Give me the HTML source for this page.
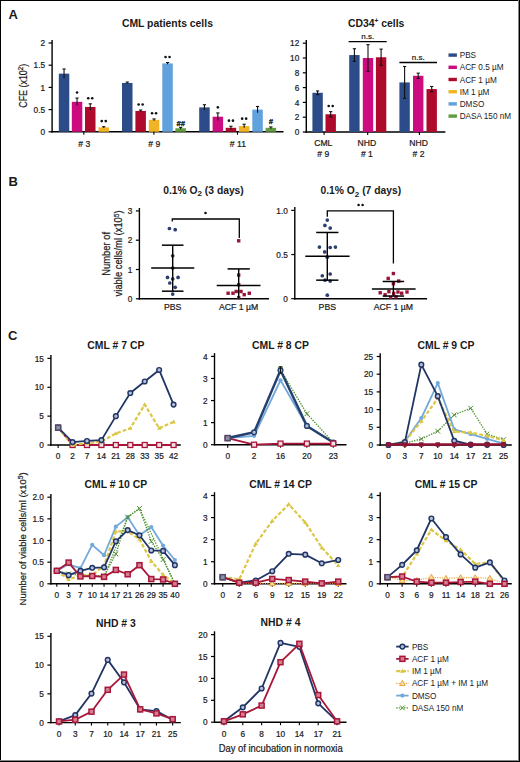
<!DOCTYPE html>
<html><head><meta charset="utf-8"><title>Figure</title>
<style>
html,body{margin:0;padding:0;background:#fff;}
body{width:520px;height:762px;overflow:hidden;position:relative;font-family:"Liberation Sans", sans-serif;}
svg{position:absolute;left:0;top:0;}
svg text:not([font-weight]):not(.nl){stroke:#222;stroke-width:0.22px;paint-order:stroke;}
.bd{position:absolute;background:#000;}
</style></head><body>
<svg width="520" height="762" viewBox="0 0 520 762" font-family='"Liberation Sans", sans-serif' fill="#1a1a1a">
<text x="8.6" y="18.6" font-size="13" font-weight="bold">A</text>
<text x="8.6" y="186.4" font-size="13" font-weight="bold">B</text>
<text x="8.0" y="339.6" font-size="13" font-weight="bold">C</text>
<line x1="52.1" y1="40" x2="52.1" y2="132.5" stroke="#000" stroke-width="1.4" />
<line x1="48.6" y1="131.8" x2="52.1" y2="131.8" stroke="#000" stroke-width="1.2" />
<text transform="translate(45.1,134.9) scale(0.95,1)" font-size="8.7" text-anchor="end" >0</text>
<line x1="48.6" y1="109.6" x2="52.1" y2="109.6" stroke="#000" stroke-width="1.2" />
<text transform="translate(45.1,112.7) scale(0.95,1)" font-size="8.7" text-anchor="end" >0.5</text>
<line x1="48.6" y1="87.4" x2="52.1" y2="87.4" stroke="#000" stroke-width="1.2" />
<text transform="translate(45.1,90.5) scale(0.95,1)" font-size="8.7" text-anchor="end" >1</text>
<line x1="48.6" y1="65.2" x2="52.1" y2="65.2" stroke="#000" stroke-width="1.2" />
<text transform="translate(45.1,68.3) scale(0.95,1)" font-size="8.7" text-anchor="end" >1.5</text>
<line x1="48.6" y1="43" x2="52.1" y2="43" stroke="#000" stroke-width="1.2" />
<text transform="translate(45.1,46.1) scale(0.95,1)" font-size="8.7" text-anchor="end" >2</text>
<line x1="51.4" y1="131.8" x2="283.5" y2="131.8" stroke="#000" stroke-width="1.4" />
<rect x="58.8" y="73.64" width="10.5" height="58.16" fill="#2b4c88"/>
<line x1="64.05" y1="68.97" x2="64.05" y2="78.3" stroke="#111" stroke-width="1.1" />
<line x1="62.45" y1="68.97" x2="65.65" y2="68.97" stroke="#111" stroke-width="1.1" />
<rect x="71.8" y="101.83" width="10.5" height="29.97" fill="#cc0c7e"/>
<line x1="77.05" y1="98.06" x2="77.05" y2="105.6" stroke="#111" stroke-width="1.1" />
<line x1="75.45" y1="98.06" x2="78.65" y2="98.06" stroke="#111" stroke-width="1.1" />
<circle cx="77.05" cy="92.46" r="1.3" fill="#111"/>
<rect x="85" y="106.94" width="10.5" height="24.86" fill="#ad0a2c"/>
<line x1="90.25" y1="103.83" x2="90.25" y2="110.04" stroke="#111" stroke-width="1.1" />
<line x1="88.65" y1="103.83" x2="91.85" y2="103.83" stroke="#111" stroke-width="1.1" />
<circle cx="88.25" cy="98.23" r="1.3" fill="#111"/>
<circle cx="92.25" cy="98.23" r="1.3" fill="#111"/>
<rect x="98.5" y="127.36" width="10.5" height="4.44" fill="#f0b424"/>
<line x1="103.75" y1="126.69" x2="103.75" y2="128.03" stroke="#111" stroke-width="1.1" />
<line x1="102.15" y1="126.69" x2="105.35" y2="126.69" stroke="#111" stroke-width="1.1" />
<circle cx="101.75" cy="121.09" r="1.3" fill="#111"/>
<circle cx="105.75" cy="121.09" r="1.3" fill="#111"/>
<rect x="122" y="82.96" width="10.5" height="48.84" fill="#2b4c88"/>
<line x1="127.25" y1="82.07" x2="127.25" y2="83.85" stroke="#111" stroke-width="1.1" />
<line x1="125.65" y1="82.07" x2="128.85" y2="82.07" stroke="#111" stroke-width="1.1" />
<rect x="135.4" y="110.93" width="10.5" height="20.87" fill="#ad0a2c"/>
<line x1="140.65" y1="110.04" x2="140.65" y2="111.82" stroke="#111" stroke-width="1.1" />
<line x1="139.05" y1="110.04" x2="142.25" y2="110.04" stroke="#111" stroke-width="1.1" />
<circle cx="138.65" cy="104.44" r="1.3" fill="#111"/>
<circle cx="142.65" cy="104.44" r="1.3" fill="#111"/>
<rect x="148.8" y="119.81" width="10.5" height="11.99" fill="#f0b424"/>
<line x1="154.05" y1="118.92" x2="154.05" y2="120.7" stroke="#111" stroke-width="1.1" />
<line x1="152.45" y1="118.92" x2="155.65" y2="118.92" stroke="#111" stroke-width="1.1" />
<circle cx="152.05" cy="113.32" r="1.3" fill="#111"/>
<circle cx="156.05" cy="113.32" r="1.3" fill="#111"/>
<rect x="162.3" y="63.42" width="10.5" height="68.38" fill="#62a2dc"/>
<line x1="167.55" y1="62.54" x2="167.55" y2="64.31" stroke="#111" stroke-width="1.1" />
<line x1="165.95" y1="62.54" x2="169.15" y2="62.54" stroke="#111" stroke-width="1.1" />
<circle cx="165.55" cy="56.94" r="1.3" fill="#111"/>
<circle cx="169.55" cy="56.94" r="1.3" fill="#111"/>
<rect x="175.4" y="128.25" width="10.5" height="3.55" fill="#5f9e3e"/>
<line x1="180.65" y1="127.36" x2="180.65" y2="129.14" stroke="#111" stroke-width="1.1" />
<line x1="179.05" y1="127.36" x2="182.25" y2="127.36" stroke="#111" stroke-width="1.1" />
<text x="180.65" y="125.96" font-size="7.4" text-anchor="middle" font-weight="bold" font-style="italic" fill="#000" stroke="#000" stroke-width="0.25">##</text>
<rect x="199.2" y="107.38" width="10.5" height="24.42" fill="#2b4c88"/>
<line x1="204.45" y1="104.72" x2="204.45" y2="110.04" stroke="#111" stroke-width="1.1" />
<line x1="202.85" y1="104.72" x2="206.05" y2="104.72" stroke="#111" stroke-width="1.1" />
<rect x="212.6" y="116.7" width="10.5" height="15.1" fill="#cc0c7e"/>
<line x1="217.85" y1="112.93" x2="217.85" y2="120.48" stroke="#111" stroke-width="1.1" />
<line x1="216.25" y1="112.93" x2="219.45" y2="112.93" stroke="#111" stroke-width="1.1" />
<circle cx="217.85" cy="107.33" r="1.3" fill="#111"/>
<rect x="225.7" y="127.8" width="10.5" height="4" fill="#ad0a2c"/>
<line x1="230.95" y1="126.25" x2="230.95" y2="129.36" stroke="#111" stroke-width="1.1" />
<line x1="229.35" y1="126.25" x2="232.55" y2="126.25" stroke="#111" stroke-width="1.1" />
<circle cx="228.95" cy="120.65" r="1.3" fill="#111"/>
<circle cx="232.95" cy="120.65" r="1.3" fill="#111"/>
<rect x="238.9" y="126.03" width="10.5" height="5.77" fill="#f0b424"/>
<line x1="244.15" y1="124.25" x2="244.15" y2="127.8" stroke="#111" stroke-width="1.1" />
<line x1="242.55" y1="124.25" x2="245.75" y2="124.25" stroke="#111" stroke-width="1.1" />
<circle cx="242.15" cy="118.65" r="1.3" fill="#111"/>
<circle cx="246.15" cy="118.65" r="1.3" fill="#111"/>
<rect x="252.3" y="109.6" width="10.5" height="22.2" fill="#62a2dc"/>
<line x1="257.55" y1="106.49" x2="257.55" y2="112.71" stroke="#111" stroke-width="1.1" />
<line x1="255.95" y1="106.49" x2="259.15" y2="106.49" stroke="#111" stroke-width="1.1" />
<rect x="265.6" y="127.8" width="10.5" height="4" fill="#5f9e3e"/>
<line x1="270.85" y1="126.92" x2="270.85" y2="128.69" stroke="#111" stroke-width="1.1" />
<line x1="269.25" y1="126.92" x2="272.45" y2="126.92" stroke="#111" stroke-width="1.1" />
<text x="270.85" y="123.92" font-size="7.4" text-anchor="middle" font-weight="bold" font-style="italic" fill="#000" stroke="#000" stroke-width="0.25">#</text>
<line x1="83.8" y1="131.8" x2="83.8" y2="134.8" stroke="#000" stroke-width="1.1" />
<text x="84.2" y="146.5" font-size="8.6" text-anchor="middle" ># 3</text>
<line x1="153.9" y1="131.8" x2="153.9" y2="134.8" stroke="#000" stroke-width="1.1" />
<text x="154.3" y="146.5" font-size="8.6" text-anchor="middle" ># 9</text>
<line x1="237.5" y1="131.8" x2="237.5" y2="134.8" stroke="#000" stroke-width="1.1" />
<text x="237.9" y="146.5" font-size="8.6" text-anchor="middle" ># 11</text>
<text x="167.4" y="26.9" font-size="10.4" text-anchor="middle" font-weight="bold" >CML patients cells</text>
<text transform="translate(27.0,85.8) rotate(-90)" font-size="10.2" text-anchor="middle" textLength="44" lengthAdjust="spacingAndGlyphs">CFE (x10<tspan font-size="7" dy="-3.6">2</tspan><tspan dy="3.6">)</tspan></text>
<line x1="306.3" y1="40" x2="306.3" y2="132.7" stroke="#000" stroke-width="1.4" />
<line x1="302.8" y1="132" x2="306.3" y2="132" stroke="#000" stroke-width="1.2" />
<text transform="translate(299.3,135.1) scale(0.95,1)" font-size="8.7" text-anchor="end" >0</text>
<line x1="302.8" y1="117.2" x2="306.3" y2="117.2" stroke="#000" stroke-width="1.2" />
<text transform="translate(299.3,120.3) scale(0.95,1)" font-size="8.7" text-anchor="end" >2</text>
<line x1="302.8" y1="102.4" x2="306.3" y2="102.4" stroke="#000" stroke-width="1.2" />
<text transform="translate(299.3,105.5) scale(0.95,1)" font-size="8.7" text-anchor="end" >4</text>
<line x1="302.8" y1="87.6" x2="306.3" y2="87.6" stroke="#000" stroke-width="1.2" />
<text transform="translate(299.3,90.7) scale(0.95,1)" font-size="8.7" text-anchor="end" >6</text>
<line x1="302.8" y1="72.8" x2="306.3" y2="72.8" stroke="#000" stroke-width="1.2" />
<text transform="translate(299.3,75.9) scale(0.95,1)" font-size="8.7" text-anchor="end" >8</text>
<line x1="302.8" y1="58" x2="306.3" y2="58" stroke="#000" stroke-width="1.2" />
<text transform="translate(299.3,61.1) scale(0.95,1)" font-size="8.7" text-anchor="end" >10</text>
<line x1="302.8" y1="43.2" x2="306.3" y2="43.2" stroke="#000" stroke-width="1.2" />
<text transform="translate(299.3,46.3) scale(0.95,1)" font-size="8.7" text-anchor="end" >12</text>
<line x1="305.6" y1="132" x2="445.4" y2="132" stroke="#000" stroke-width="1.4" />
<rect x="312.4" y="92.78" width="10.4" height="39.22" fill="#2b4c88"/>
<line x1="317.6" y1="90.93" x2="317.6" y2="94.63" stroke="#111" stroke-width="1.1" />
<line x1="316" y1="90.93" x2="319.2" y2="90.93" stroke="#111" stroke-width="1.1" />
<line x1="316" y1="94.63" x2="319.2" y2="94.63" stroke="#111" stroke-width="1.1" />
<rect x="325.5" y="114.24" width="10.4" height="17.76" fill="#ad0a2c"/>
<line x1="330.7" y1="111.65" x2="330.7" y2="116.83" stroke="#111" stroke-width="1.1" />
<line x1="329.1" y1="111.65" x2="332.3" y2="111.65" stroke="#111" stroke-width="1.1" />
<line x1="329.1" y1="116.83" x2="332.3" y2="116.83" stroke="#111" stroke-width="1.1" />
<circle cx="328.7" cy="105.95" r="1.3" fill="#111"/>
<circle cx="332.7" cy="105.95" r="1.3" fill="#111"/>
<rect x="349.2" y="55.04" width="10.4" height="76.96" fill="#2b4c88"/>
<line x1="354.4" y1="48.75" x2="354.4" y2="61.33" stroke="#111" stroke-width="1.1" />
<line x1="352.8" y1="48.75" x2="356" y2="48.75" stroke="#111" stroke-width="1.1" />
<line x1="352.8" y1="61.33" x2="356" y2="61.33" stroke="#111" stroke-width="1.1" />
<rect x="362.8" y="58" width="10.4" height="74" fill="#cc0c7e"/>
<line x1="368" y1="44.68" x2="368" y2="71.32" stroke="#111" stroke-width="1.1" />
<line x1="366.4" y1="44.68" x2="369.6" y2="44.68" stroke="#111" stroke-width="1.1" />
<line x1="366.4" y1="71.32" x2="369.6" y2="71.32" stroke="#111" stroke-width="1.1" />
<rect x="375.9" y="57.26" width="10.4" height="74.74" fill="#ad0a2c"/>
<line x1="381.1" y1="49.12" x2="381.1" y2="65.4" stroke="#111" stroke-width="1.1" />
<line x1="379.5" y1="49.12" x2="382.7" y2="49.12" stroke="#111" stroke-width="1.1" />
<line x1="379.5" y1="65.4" x2="382.7" y2="65.4" stroke="#111" stroke-width="1.1" />
<rect x="399.4" y="82.42" width="10.4" height="49.58" fill="#2b4c88"/>
<line x1="404.6" y1="66.51" x2="404.6" y2="98.33" stroke="#111" stroke-width="1.1" />
<line x1="403" y1="66.51" x2="406.2" y2="66.51" stroke="#111" stroke-width="1.1" />
<line x1="403" y1="98.33" x2="406.2" y2="98.33" stroke="#111" stroke-width="1.1" />
<rect x="413" y="75.76" width="10.4" height="56.24" fill="#cc0c7e"/>
<line x1="418.2" y1="73.17" x2="418.2" y2="78.35" stroke="#111" stroke-width="1.1" />
<line x1="416.6" y1="73.17" x2="419.8" y2="73.17" stroke="#111" stroke-width="1.1" />
<line x1="416.6" y1="78.35" x2="419.8" y2="78.35" stroke="#111" stroke-width="1.1" />
<rect x="426.5" y="89.08" width="10.4" height="42.92" fill="#ad0a2c"/>
<line x1="431.7" y1="86.49" x2="431.7" y2="91.67" stroke="#111" stroke-width="1.1" />
<line x1="430.1" y1="86.49" x2="433.3" y2="86.49" stroke="#111" stroke-width="1.1" />
<line x1="430.1" y1="91.67" x2="433.3" y2="91.67" stroke="#111" stroke-width="1.1" />
<line x1="348.6" y1="41.6" x2="386.7" y2="41.6" stroke="#000" stroke-width="1.3" />
<text x="367.7" y="39.4" font-size="8" text-anchor="middle" >n.s.</text>
<line x1="399.4" y1="62.5" x2="437" y2="62.5" stroke="#000" stroke-width="1.3" />
<text x="418.2" y="60.2" font-size="8" text-anchor="middle" >n.s.</text>
<line x1="324.1" y1="132" x2="324.1" y2="135" stroke="#000" stroke-width="1.1" />
<text x="323.3" y="146.2" font-size="8.6" text-anchor="middle" >CML</text>
<text x="323.3" y="156.7" font-size="8.6" text-anchor="middle" ># 9</text>
<line x1="367.7" y1="132" x2="367.7" y2="135" stroke="#000" stroke-width="1.1" />
<text x="366.9" y="146.2" font-size="8.6" text-anchor="middle" >NHD</text>
<text x="366.9" y="156.7" font-size="8.6" text-anchor="middle" ># 1</text>
<line x1="419.4" y1="132" x2="419.4" y2="135" stroke="#000" stroke-width="1.1" />
<text x="418.6" y="146.2" font-size="8.6" text-anchor="middle" >NHD</text>
<text x="418.6" y="156.7" font-size="8.6" text-anchor="middle" ># 2</text>
<text x="376.2" y="26.8" font-size="10.4" font-weight="bold" text-anchor="middle">CD34<tspan font-size="6.5" dy="-3.6">+</tspan><tspan dy="3.6"> cells</tspan></text>
<rect x="448.5" y="53.4" width="8.4" height="3.4" fill="#2b4c88"/>
<text x="459.7" y="58.1" font-size="8.2" text-anchor="start" class="nl">PBS</text>
<rect x="448.5" y="65.6" width="8.4" height="3.4" fill="#cc0c7e"/>
<text x="459.7" y="70.3" font-size="8.2" text-anchor="start" class="nl">ACF 0.5 µM</text>
<rect x="448.5" y="77.8" width="8.4" height="3.4" fill="#ad0a2c"/>
<text x="459.7" y="82.5" font-size="8.2" text-anchor="start" class="nl">ACF 1 µM</text>
<rect x="448.5" y="90" width="8.4" height="3.4" fill="#f0b424"/>
<text x="459.7" y="94.7" font-size="8.2" text-anchor="start" class="nl">IM 1 µM</text>
<rect x="448.5" y="102.2" width="8.4" height="3.4" fill="#62a2dc"/>
<text x="459.7" y="106.9" font-size="8.2" text-anchor="start" class="nl">DMSO</text>
<rect x="448.5" y="114.4" width="8.4" height="3.4" fill="#5f9e3e"/>
<text x="459.7" y="119.1" font-size="8.2" text-anchor="start" class="nl">DASA 150 nM</text>
<line x1="139.4" y1="208" x2="139.4" y2="299.5" stroke="#000" stroke-width="1.4" />
<line x1="135.9" y1="298.8" x2="139.4" y2="298.8" stroke="#000" stroke-width="1.2" />
<text transform="translate(132.4,301.9) scale(0.95,1)" font-size="8.7" text-anchor="end" >0</text>
<line x1="135.9" y1="269.5" x2="139.4" y2="269.5" stroke="#000" stroke-width="1.2" />
<text transform="translate(132.4,272.6) scale(0.95,1)" font-size="8.7" text-anchor="end" >1</text>
<line x1="135.9" y1="240.2" x2="139.4" y2="240.2" stroke="#000" stroke-width="1.2" />
<text transform="translate(132.4,243.3) scale(0.95,1)" font-size="8.7" text-anchor="end" >2</text>
<line x1="135.9" y1="210.9" x2="139.4" y2="210.9" stroke="#000" stroke-width="1.2" />
<text transform="translate(132.4,214) scale(0.95,1)" font-size="8.7" text-anchor="end" >3</text>
<line x1="138.7" y1="298.8" x2="269" y2="298.8" stroke="#000" stroke-width="1.4" />
<circle cx="169.4" cy="228.48" r="1.85" fill="#2c3f6e"/>
<circle cx="175.2" cy="229.65" r="1.85" fill="#2c3f6e"/>
<circle cx="172.7" cy="255.73" r="1.85" fill="#2c3f6e"/>
<circle cx="167.5" cy="277.41" r="1.85" fill="#2c3f6e"/>
<circle cx="178.1" cy="277.41" r="1.85" fill="#2c3f6e"/>
<circle cx="172.7" cy="278.88" r="1.85" fill="#2c3f6e"/>
<circle cx="169.8" cy="282.98" r="1.85" fill="#2c3f6e"/>
<circle cx="175.2" cy="287.37" r="1.85" fill="#2c3f6e"/>
<circle cx="172.7" cy="294.11" r="1.85" fill="#2c3f6e"/>
<circle cx="172.7" cy="268.04" r="1.85" fill="#2c3f6e"/>
<rect x="237" y="239.09" width="3.4" height="3.4" fill="#9a1438"/>
<rect x="237" y="273.37" width="3.4" height="3.4" fill="#9a1438"/>
<rect x="237" y="283.04" width="3.4" height="3.4" fill="#9a1438"/>
<rect x="226.4" y="291.53" width="3.4" height="3.4" fill="#9a1438"/>
<rect x="231.3" y="291.53" width="3.4" height="3.4" fill="#9a1438"/>
<rect x="234.5" y="289.78" width="3.4" height="3.4" fill="#9a1438"/>
<rect x="239.3" y="289.78" width="3.4" height="3.4" fill="#9a1438"/>
<rect x="242.5" y="293" width="3.4" height="3.4" fill="#9a1438"/>
<rect x="247.6" y="291.53" width="3.4" height="3.4" fill="#9a1438"/>
<rect x="237" y="295.93" width="3.4" height="3.4" fill="#9a1438"/>
<line x1="172.7" y1="245.18" x2="172.7" y2="291.18" stroke="#000" stroke-width="1.4" />
<line x1="151.2" y1="268.04" x2="194.3" y2="268.04" stroke="#000" stroke-width="1.5" />
<line x1="161.9" y1="245.18" x2="183.5" y2="245.18" stroke="#000" stroke-width="1.5" />
<line x1="161.9" y1="291.18" x2="183.5" y2="291.18" stroke="#000" stroke-width="1.5" />
<line x1="238.7" y1="268.91" x2="238.7" y2="298.8" stroke="#000" stroke-width="1.4" />
<line x1="216.7" y1="285.62" x2="260.5" y2="285.62" stroke="#000" stroke-width="1.5" />
<line x1="227.6" y1="268.91" x2="249.8" y2="268.91" stroke="#000" stroke-width="1.5" />
<polyline points="172.3,221.5 172.3,219 239.3,219 239.3,238" fill="none" stroke="#000" stroke-width="1.3"/>
<circle cx="205.5" cy="213" r="1.3" fill="#111"/>
<text x="172.7" y="310" font-size="8.7" text-anchor="middle" >PBS</text>
<text x="238.7" y="310" font-size="8.7" text-anchor="middle" >ACF 1 µM</text>
<text x="203.5" y="194" font-size="10.3" text-anchor="middle" font-weight="bold" >0.1% O<tspan font-size="8" dy="2.2">2</tspan><tspan dy="-2.2"> (3 days)</tspan></text>
<text transform="translate(109.5,253.8) rotate(-90)" font-size="10" text-anchor="middle" textLength="43.8" lengthAdjust="spacingAndGlyphs">Number of</text>
<text transform="translate(122.4,253.4) rotate(-90)" font-size="10" text-anchor="middle" textLength="86" lengthAdjust="spacingAndGlyphs">viable cells/ml (x10<tspan font-size="7" dy="-3.6">5</tspan><tspan dy="3.6">)</tspan></text>
<line x1="294.8" y1="207" x2="294.8" y2="299.4" stroke="#000" stroke-width="1.4" />
<line x1="291.3" y1="298.7" x2="294.8" y2="298.7" stroke="#000" stroke-width="1.2" />
<text transform="translate(287.8,301.8) scale(0.95,1)" font-size="8.7" text-anchor="end" >0</text>
<line x1="291.3" y1="254.55" x2="294.8" y2="254.55" stroke="#000" stroke-width="1.2" />
<text transform="translate(287.8,257.65) scale(0.95,1)" font-size="8.7" text-anchor="end" >0.5</text>
<line x1="291.3" y1="210.4" x2="294.8" y2="210.4" stroke="#000" stroke-width="1.2" />
<text transform="translate(287.8,213.5) scale(0.95,1)" font-size="8.7" text-anchor="end" >1.0</text>
<line x1="294.1" y1="298.7" x2="427.1" y2="298.7" stroke="#000" stroke-width="1.4" />
<circle cx="327.3" cy="220.11" r="1.85" fill="#2c3f6e"/>
<circle cx="324.9" cy="225.41" r="1.85" fill="#2c3f6e"/>
<circle cx="330.2" cy="228.06" r="1.85" fill="#2c3f6e"/>
<circle cx="319.4" cy="247.04" r="1.85" fill="#2c3f6e"/>
<circle cx="330.2" cy="247.49" r="1.85" fill="#2c3f6e"/>
<circle cx="335.4" cy="247.04" r="1.85" fill="#2c3f6e"/>
<circle cx="324.7" cy="251.9" r="1.85" fill="#2c3f6e"/>
<circle cx="327.3" cy="257.2" r="1.85" fill="#2c3f6e"/>
<circle cx="322.3" cy="275.74" r="1.85" fill="#2c3f6e"/>
<circle cx="330.2" cy="273.98" r="1.85" fill="#2c3f6e"/>
<circle cx="325" cy="280.16" r="1.85" fill="#2c3f6e"/>
<circle cx="330.2" cy="281.04" r="1.85" fill="#2c3f6e"/>
<circle cx="327.3" cy="295.17" r="1.85" fill="#2c3f6e"/>
<rect x="391.7" y="271.83" width="3.4" height="3.4" fill="#9a1438"/>
<rect x="386.5" y="276.69" width="3.4" height="3.4" fill="#9a1438"/>
<rect x="397" y="279.34" width="3.4" height="3.4" fill="#9a1438"/>
<rect x="391.7" y="281.99" width="3.4" height="3.4" fill="#9a1438"/>
<rect x="378.5" y="291.08" width="3.4" height="3.4" fill="#9a1438"/>
<rect x="383.4" y="293.03" width="3.4" height="3.4" fill="#9a1438"/>
<rect x="387.2" y="289.94" width="3.4" height="3.4" fill="#9a1438"/>
<rect x="392" y="291.7" width="3.4" height="3.4" fill="#9a1438"/>
<rect x="396.3" y="290.29" width="3.4" height="3.4" fill="#9a1438"/>
<rect x="400" y="291.53" width="3.4" height="3.4" fill="#9a1438"/>
<rect x="405.3" y="290.29" width="3.4" height="3.4" fill="#9a1438"/>
<rect x="389" y="295.68" width="3.4" height="3.4" fill="#9a1438"/>
<rect x="394.3" y="295.23" width="3.4" height="3.4" fill="#9a1438"/>
<line x1="327.3" y1="232.47" x2="327.3" y2="280.16" stroke="#000" stroke-width="1.4" />
<line x1="305.3" y1="256.32" x2="349.6" y2="256.32" stroke="#000" stroke-width="1.5" />
<line x1="316.2" y1="232.47" x2="338.4" y2="232.47" stroke="#000" stroke-width="1.5" />
<line x1="316.2" y1="280.16" x2="338.4" y2="280.16" stroke="#000" stroke-width="1.5" />
<line x1="393.4" y1="281.48" x2="393.4" y2="296.05" stroke="#000" stroke-width="1.4" />
<line x1="371.9" y1="288.99" x2="415.6" y2="288.99" stroke="#000" stroke-width="1.5" />
<line x1="382.7" y1="281.48" x2="404.1" y2="281.48" stroke="#000" stroke-width="1.5" />
<line x1="382.7" y1="296.05" x2="404.1" y2="296.05" stroke="#000" stroke-width="1.5" />
<polyline points="327.3,216.8 327.3,210.9 393.4,210.9 393.4,263.4" fill="none" stroke="#000" stroke-width="1.3"/>
<circle cx="358.6" cy="205" r="1.3" fill="#111"/>
<circle cx="362.6" cy="205" r="1.3" fill="#111"/>
<text x="327.3" y="310" font-size="8.7" text-anchor="middle" >PBS</text>
<text x="393.4" y="310" font-size="8.7" text-anchor="middle" >ACF 1 µM</text>
<text x="360.8" y="194.4" font-size="10.3" text-anchor="middle" font-weight="bold" >0.1% O<tspan font-size="8" dy="2.2">2</tspan><tspan dy="-2.2"> (7 days)</tspan></text>
<line x1="50.9" y1="355.1" x2="50.9" y2="445.7" stroke="#000" stroke-width="1.4" />
<line x1="47.4" y1="445" x2="50.9" y2="445" stroke="#000" stroke-width="1.2" />
<text transform="translate(43.9,448.1) scale(0.95,1)" font-size="8.7" text-anchor="end" >0</text>
<line x1="47.4" y1="416.13" x2="50.9" y2="416.13" stroke="#000" stroke-width="1.2" />
<text transform="translate(43.9,419.23) scale(0.95,1)" font-size="8.7" text-anchor="end" >5</text>
<line x1="47.4" y1="387.27" x2="50.9" y2="387.27" stroke="#000" stroke-width="1.2" />
<text transform="translate(43.9,390.37) scale(0.95,1)" font-size="8.7" text-anchor="end" >10</text>
<line x1="47.4" y1="358.4" x2="50.9" y2="358.4" stroke="#000" stroke-width="1.2" />
<text transform="translate(43.9,361.5) scale(0.95,1)" font-size="8.7" text-anchor="end" >15</text>
<line x1="50.2" y1="445" x2="180.8" y2="445" stroke="#000" stroke-width="1.4" />
<line x1="58.12" y1="445" x2="58.12" y2="448" stroke="#000" stroke-width="1.1" />
<text transform="translate(58.12,459.4) scale(0.95,1)" font-size="8.7" text-anchor="middle" >0</text>
<line x1="72.55" y1="445" x2="72.55" y2="448" stroke="#000" stroke-width="1.1" />
<text transform="translate(72.55,459.4) scale(0.95,1)" font-size="8.7" text-anchor="middle" >2</text>
<line x1="86.98" y1="445" x2="86.98" y2="448" stroke="#000" stroke-width="1.1" />
<text transform="translate(86.98,459.4) scale(0.95,1)" font-size="8.7" text-anchor="middle" >7</text>
<line x1="101.42" y1="445" x2="101.42" y2="448" stroke="#000" stroke-width="1.1" />
<text transform="translate(101.42,459.4) scale(0.95,1)" font-size="8.7" text-anchor="middle" >14</text>
<line x1="115.85" y1="445" x2="115.85" y2="448" stroke="#000" stroke-width="1.1" />
<text transform="translate(115.85,459.4) scale(0.95,1)" font-size="8.7" text-anchor="middle" >21</text>
<line x1="130.28" y1="445" x2="130.28" y2="448" stroke="#000" stroke-width="1.1" />
<text transform="translate(130.28,459.4) scale(0.95,1)" font-size="8.7" text-anchor="middle" >28</text>
<line x1="144.72" y1="445" x2="144.72" y2="448" stroke="#000" stroke-width="1.1" />
<text transform="translate(144.72,459.4) scale(0.95,1)" font-size="8.7" text-anchor="middle" >33</text>
<line x1="159.15" y1="445" x2="159.15" y2="448" stroke="#000" stroke-width="1.1" />
<text transform="translate(159.15,459.4) scale(0.95,1)" font-size="8.7" text-anchor="middle" >35</text>
<line x1="173.58" y1="445" x2="173.58" y2="448" stroke="#000" stroke-width="1.1" />
<text transform="translate(173.58,459.4) scale(0.95,1)" font-size="8.7" text-anchor="middle" >42</text>
<text x="115.85" y="349" font-size="10.4" text-anchor="middle" font-weight="bold" >CML # 7 CP</text>
<polyline points="58.12,427.68 72.55,445 86.98,445 101.42,445 115.85,445 130.28,445 144.72,445 159.15,445 173.58,445" fill="none" stroke="#a8173a" stroke-width="1.8" stroke-linejoin="round"/>
<rect x="55.62" y="425.18" width="5" height="5" fill="#f4e0e4" stroke="#a8173a" stroke-width="1.3"/>
<rect x="70.05" y="442.5" width="5" height="5" fill="#f4e0e4" stroke="#a8173a" stroke-width="1.3"/>
<rect x="84.48" y="442.5" width="5" height="5" fill="#f4e0e4" stroke="#a8173a" stroke-width="1.3"/>
<rect x="98.92" y="442.5" width="5" height="5" fill="#f4e0e4" stroke="#a8173a" stroke-width="1.3"/>
<rect x="113.35" y="442.5" width="5" height="5" fill="#f4e0e4" stroke="#a8173a" stroke-width="1.3"/>
<rect x="127.78" y="442.5" width="5" height="5" fill="#f4e0e4" stroke="#a8173a" stroke-width="1.3"/>
<rect x="142.22" y="442.5" width="5" height="5" fill="#f4e0e4" stroke="#a8173a" stroke-width="1.3"/>
<rect x="156.65" y="442.5" width="5" height="5" fill="#f4e0e4" stroke="#a8173a" stroke-width="1.3"/>
<rect x="171.08" y="442.5" width="5" height="5" fill="#f4e0e4" stroke="#a8173a" stroke-width="1.3"/>
<polyline points="58.12,427.68 72.55,445 86.98,443.27 101.42,441.54 115.85,433.45 130.28,428.26 144.72,404.59 159.15,428.26 173.58,421.91" fill="none" stroke="#dcc644" stroke-width="2.2" stroke-dasharray="3.8,2" stroke-linejoin="round"/>
<path d="M58.12,425.38 L60.42,429.28 L55.82,429.28Z" fill="#dcc644"/>
<path d="M72.55,442.7 L74.85,446.6 L70.25,446.6Z" fill="#dcc644"/>
<path d="M86.98,440.97 L89.28,444.87 L84.68,444.87Z" fill="#dcc644"/>
<path d="M101.42,439.24 L103.72,443.14 L99.12,443.14Z" fill="#dcc644"/>
<path d="M115.85,431.15 L118.15,435.05 L113.55,435.05Z" fill="#dcc644"/>
<path d="M130.28,425.96 L132.58,429.86 L127.98,429.86Z" fill="#dcc644"/>
<path d="M144.72,402.29 L147.02,406.19 L142.42,406.19Z" fill="#dcc644"/>
<path d="M159.15,425.96 L161.45,429.86 L156.85,429.86Z" fill="#dcc644"/>
<path d="M173.58,419.61 L175.88,423.51 L171.28,423.51Z" fill="#dcc644"/>
<polyline points="58.12,427.68 72.55,442.11 86.98,440.96 101.42,440.09 115.85,416.13 130.28,393.04 144.72,381.49 159.15,369.95 173.58,404.59" fill="none" stroke="#213565" stroke-width="1.8" stroke-linejoin="round"/>
<circle cx="58.12" cy="427.68" r="2.35" fill="#b6c0d8" stroke="#213565" stroke-width="1.45"/>
<circle cx="72.55" cy="442.11" r="2.35" fill="#b6c0d8" stroke="#213565" stroke-width="1.45"/>
<circle cx="86.98" cy="440.96" r="2.35" fill="#b6c0d8" stroke="#213565" stroke-width="1.45"/>
<circle cx="101.42" cy="440.09" r="2.35" fill="#b6c0d8" stroke="#213565" stroke-width="1.45"/>
<circle cx="115.85" cy="416.13" r="2.35" fill="#b6c0d8" stroke="#213565" stroke-width="1.45"/>
<circle cx="130.28" cy="393.04" r="2.35" fill="#b6c0d8" stroke="#213565" stroke-width="1.45"/>
<circle cx="144.72" cy="381.49" r="2.35" fill="#b6c0d8" stroke="#213565" stroke-width="1.45"/>
<circle cx="159.15" cy="369.95" r="2.35" fill="#b6c0d8" stroke="#213565" stroke-width="1.45"/>
<circle cx="173.58" cy="404.59" r="2.35" fill="#b6c0d8" stroke="#213565" stroke-width="1.45"/>
<rect x="55.62" y="425.18" width="5" height="5" fill="#8a8fa8" stroke="#4a4c6c" stroke-width="1.4"/>
<line x1="214.5" y1="353.1" x2="214.5" y2="445.4" stroke="#000" stroke-width="1.4" />
<line x1="211" y1="444.7" x2="214.5" y2="444.7" stroke="#000" stroke-width="1.2" />
<text transform="translate(207.5,447.8) scale(0.95,1)" font-size="8.7" text-anchor="end" >0</text>
<line x1="211" y1="422.62" x2="214.5" y2="422.62" stroke="#000" stroke-width="1.2" />
<text transform="translate(207.5,425.73) scale(0.95,1)" font-size="8.7" text-anchor="end" >1</text>
<line x1="211" y1="400.55" x2="214.5" y2="400.55" stroke="#000" stroke-width="1.2" />
<text transform="translate(207.5,403.65) scale(0.95,1)" font-size="8.7" text-anchor="end" >2</text>
<line x1="211" y1="378.47" x2="214.5" y2="378.47" stroke="#000" stroke-width="1.2" />
<text transform="translate(207.5,381.57) scale(0.95,1)" font-size="8.7" text-anchor="end" >3</text>
<line x1="211" y1="356.4" x2="214.5" y2="356.4" stroke="#000" stroke-width="1.2" />
<text transform="translate(207.5,359.5) scale(0.95,1)" font-size="8.7" text-anchor="end" >4</text>
<line x1="213.8" y1="444.7" x2="346.5" y2="444.7" stroke="#000" stroke-width="1.4" />
<line x1="227.7" y1="444.7" x2="227.7" y2="447.7" stroke="#000" stroke-width="1.1" />
<text transform="translate(227.7,459.1) scale(0.95,1)" font-size="8.7" text-anchor="middle" >0</text>
<line x1="254.1" y1="444.7" x2="254.1" y2="447.7" stroke="#000" stroke-width="1.1" />
<text transform="translate(254.1,459.1) scale(0.95,1)" font-size="8.7" text-anchor="middle" >2</text>
<line x1="280.5" y1="444.7" x2="280.5" y2="447.7" stroke="#000" stroke-width="1.1" />
<text transform="translate(280.5,459.1) scale(0.95,1)" font-size="8.7" text-anchor="middle" >16</text>
<line x1="306.9" y1="444.7" x2="306.9" y2="447.7" stroke="#000" stroke-width="1.1" />
<text transform="translate(306.9,459.1) scale(0.95,1)" font-size="8.7" text-anchor="middle" >20</text>
<line x1="333.3" y1="444.7" x2="333.3" y2="447.7" stroke="#000" stroke-width="1.1" />
<text transform="translate(333.3,459.1) scale(0.95,1)" font-size="8.7" text-anchor="middle" >23</text>
<text x="280.5" y="348.7" font-size="10.4" text-anchor="middle" font-weight="bold" >CML # 8 CP</text>
<polyline points="280.5,369.64 306.9,413.79 333.3,442.49" fill="none" stroke="#4f9030" stroke-width="1.3" stroke-dasharray="1.4,1.2" stroke-linejoin="round"/>
<path d="M278.1,367.25 L282.9,372.04 M282.9,367.25 L278.1,372.04" stroke="#4f9030" stroke-width="1.0"/>
<path d="M304.5,411.39 L309.3,416.19 M309.3,411.39 L304.5,416.19" stroke="#4f9030" stroke-width="1.0"/>
<path d="M330.9,440.09 L335.7,444.89 M335.7,440.09 L330.9,444.89" stroke="#4f9030" stroke-width="1.0"/>
<polyline points="227.7,438.08 254.1,435.87 280.5,380.24 306.9,425.94 333.3,442.49" fill="none" stroke="#72a8da" stroke-width="1.8" stroke-linejoin="round"/>
<circle cx="227.7" cy="438.08" r="2.1" fill="#72a8da"/>
<circle cx="254.1" cy="435.87" r="2.1" fill="#72a8da"/>
<circle cx="280.5" cy="380.24" r="2.1" fill="#72a8da"/>
<circle cx="306.9" cy="425.94" r="2.1" fill="#72a8da"/>
<circle cx="333.3" cy="442.49" r="2.1" fill="#72a8da"/>
<polyline points="227.7,438.08 254.1,432.34 280.5,370.31 306.9,425.94 333.3,442.49" fill="none" stroke="#25406f" stroke-width="2.5" stroke-linejoin="round"/>
<circle cx="227.7" cy="438.08" r="2.35" fill="#b6c0d8" stroke="#25406f" stroke-width="1.45"/>
<circle cx="254.1" cy="432.34" r="2.35" fill="#b6c0d8" stroke="#25406f" stroke-width="1.45"/>
<circle cx="280.5" cy="370.31" r="2.35" fill="#b6c0d8" stroke="#25406f" stroke-width="1.45"/>
<circle cx="306.9" cy="425.94" r="2.35" fill="#b6c0d8" stroke="#25406f" stroke-width="1.45"/>
<circle cx="333.3" cy="442.49" r="2.35" fill="#b6c0d8" stroke="#25406f" stroke-width="1.45"/>
<polyline points="227.7,438.08 254.1,444.7 280.5,443.6 306.9,443.6 333.3,443.6" fill="none" stroke="#a8173a" stroke-width="1.8" stroke-linejoin="round"/>
<rect x="225.2" y="435.58" width="5" height="5" fill="#f4e0e4" stroke="#a8173a" stroke-width="1.3"/>
<rect x="251.6" y="442.2" width="5" height="5" fill="#f4e0e4" stroke="#a8173a" stroke-width="1.3"/>
<rect x="278" y="441.1" width="5" height="5" fill="#f4e0e4" stroke="#a8173a" stroke-width="1.3"/>
<rect x="304.4" y="441.1" width="5" height="5" fill="#f4e0e4" stroke="#a8173a" stroke-width="1.3"/>
<rect x="330.8" y="441.1" width="5" height="5" fill="#f4e0e4" stroke="#a8173a" stroke-width="1.3"/>
<line x1="280.5" y1="366.78" x2="280.5" y2="373.84" stroke="#111" stroke-width="1.1" />
<line x1="278.7" y1="366.78" x2="282.3" y2="366.78" stroke="#111" stroke-width="1.2" />
<rect x="225.2" y="435.58" width="5" height="5" fill="#8a8fa8" stroke="#4a4c6c" stroke-width="1.4"/>
<line x1="380.2" y1="353.2" x2="380.2" y2="445.7" stroke="#000" stroke-width="1.4" />
<line x1="376.7" y1="445" x2="380.2" y2="445" stroke="#000" stroke-width="1.2" />
<text transform="translate(373.2,448.1) scale(0.95,1)" font-size="8.7" text-anchor="end" >0</text>
<line x1="376.7" y1="427.3" x2="380.2" y2="427.3" stroke="#000" stroke-width="1.2" />
<text transform="translate(373.2,430.4) scale(0.95,1)" font-size="8.7" text-anchor="end" >5</text>
<line x1="376.7" y1="409.6" x2="380.2" y2="409.6" stroke="#000" stroke-width="1.2" />
<text transform="translate(373.2,412.7) scale(0.95,1)" font-size="8.7" text-anchor="end" >10</text>
<line x1="376.7" y1="391.9" x2="380.2" y2="391.9" stroke="#000" stroke-width="1.2" />
<text transform="translate(373.2,395) scale(0.95,1)" font-size="8.7" text-anchor="end" >15</text>
<line x1="376.7" y1="374.2" x2="380.2" y2="374.2" stroke="#000" stroke-width="1.2" />
<text transform="translate(373.2,377.3) scale(0.95,1)" font-size="8.7" text-anchor="end" >20</text>
<line x1="376.7" y1="356.5" x2="380.2" y2="356.5" stroke="#000" stroke-width="1.2" />
<text transform="translate(373.2,359.6) scale(0.95,1)" font-size="8.7" text-anchor="end" >25</text>
<line x1="379.5" y1="445" x2="511.8" y2="445" stroke="#000" stroke-width="1.4" />
<line x1="388.43" y1="445" x2="388.43" y2="448" stroke="#000" stroke-width="1.1" />
<text transform="translate(388.43,459.4) scale(0.95,1)" font-size="8.7" text-anchor="middle" >0</text>
<line x1="404.88" y1="445" x2="404.88" y2="448" stroke="#000" stroke-width="1.1" />
<text transform="translate(404.88,459.4) scale(0.95,1)" font-size="8.7" text-anchor="middle" >3</text>
<line x1="421.32" y1="445" x2="421.32" y2="448" stroke="#000" stroke-width="1.1" />
<text transform="translate(421.32,459.4) scale(0.95,1)" font-size="8.7" text-anchor="middle" >7</text>
<line x1="437.77" y1="445" x2="437.77" y2="448" stroke="#000" stroke-width="1.1" />
<text transform="translate(437.77,459.4) scale(0.95,1)" font-size="8.7" text-anchor="middle" >10</text>
<line x1="454.23" y1="445" x2="454.23" y2="448" stroke="#000" stroke-width="1.1" />
<text transform="translate(454.23,459.4) scale(0.95,1)" font-size="8.7" text-anchor="middle" >14</text>
<line x1="470.68" y1="445" x2="470.68" y2="448" stroke="#000" stroke-width="1.1" />
<text transform="translate(470.68,459.4) scale(0.95,1)" font-size="8.7" text-anchor="middle" >17</text>
<line x1="487.12" y1="445" x2="487.12" y2="448" stroke="#000" stroke-width="1.1" />
<text transform="translate(487.12,459.4) scale(0.95,1)" font-size="8.7" text-anchor="middle" >21</text>
<line x1="503.57" y1="445" x2="503.57" y2="448" stroke="#000" stroke-width="1.1" />
<text transform="translate(503.57,459.4) scale(0.95,1)" font-size="8.7" text-anchor="middle" >25</text>
<text x="446" y="349" font-size="10.4" text-anchor="middle" font-weight="bold" >CML # 9 CP</text>
<polyline points="388.43,445 404.88,443.23 421.32,438.98 437.77,431.19 454.23,414.91 470.68,408.18 487.12,434.03 503.57,439.69" fill="none" stroke="#4f9030" stroke-width="1.3" stroke-dasharray="1.4,1.2" stroke-linejoin="round"/>
<path d="M386.03,442.6 L390.82,447.4 M390.82,442.6 L386.03,447.4" stroke="#4f9030" stroke-width="1.0"/>
<path d="M402.48,440.83 L407.27,445.63 M407.27,440.83 L402.48,445.63" stroke="#4f9030" stroke-width="1.0"/>
<path d="M418.93,436.58 L423.72,441.38 M423.72,436.58 L418.93,441.38" stroke="#4f9030" stroke-width="1.0"/>
<path d="M435.38,428.79 L440.17,433.59 M440.17,428.79 L435.38,433.59" stroke="#4f9030" stroke-width="1.0"/>
<path d="M451.83,412.51 L456.62,417.31 M456.62,412.51 L451.83,417.31" stroke="#4f9030" stroke-width="1.0"/>
<path d="M468.28,405.78 L473.07,410.58 M473.07,405.78 L468.28,410.58" stroke="#4f9030" stroke-width="1.0"/>
<path d="M484.73,431.63 L489.52,436.43 M489.52,431.63 L484.73,436.43" stroke="#4f9030" stroke-width="1.0"/>
<path d="M501.18,437.29 L505.97,442.09 M505.97,437.29 L501.18,442.09" stroke="#4f9030" stroke-width="1.0"/>
<polyline points="388.43,445 404.88,441.46 421.32,418.1 437.77,383.05 454.23,429.42 470.68,434.03 487.12,438.81 503.57,443.58" fill="none" stroke="#72a8da" stroke-width="1.8" stroke-linejoin="round"/>
<circle cx="388.43" cy="445" r="2.1" fill="#72a8da"/>
<circle cx="404.88" cy="441.46" r="2.1" fill="#72a8da"/>
<circle cx="421.32" cy="418.1" r="2.1" fill="#72a8da"/>
<circle cx="437.77" cy="383.05" r="2.1" fill="#72a8da"/>
<circle cx="454.23" cy="429.42" r="2.1" fill="#72a8da"/>
<circle cx="470.68" cy="434.03" r="2.1" fill="#72a8da"/>
<circle cx="487.12" cy="438.81" r="2.1" fill="#72a8da"/>
<circle cx="503.57" cy="443.58" r="2.1" fill="#72a8da"/>
<polyline points="388.43,445 404.88,441.46 421.32,421.28 437.77,398.27 454.23,431.55 470.68,432.61 487.12,435.8 503.57,440.4" fill="none" stroke="#dcc644" stroke-width="2.2" stroke-dasharray="3.8,2" stroke-linejoin="round"/>
<path d="M388.43,442.7 L390.73,446.6 L386.12,446.6Z" fill="#dcc644"/>
<path d="M404.88,439.16 L407.18,443.06 L402.57,443.06Z" fill="#dcc644"/>
<path d="M421.32,418.98 L423.62,422.88 L419.02,422.88Z" fill="#dcc644"/>
<path d="M437.77,395.97 L440.07,399.87 L435.47,399.87Z" fill="#dcc644"/>
<path d="M454.23,429.25 L456.53,433.15 L451.93,433.15Z" fill="#dcc644"/>
<path d="M470.68,430.31 L472.98,434.21 L468.38,434.21Z" fill="#dcc644"/>
<path d="M487.12,433.5 L489.43,437.4 L484.82,437.4Z" fill="#dcc644"/>
<path d="M503.57,438.1 L505.88,442 L501.27,442Z" fill="#dcc644"/>
<polyline points="388.43,445 404.88,442.17 421.32,364.64 437.77,396.15 454.23,440.75 470.68,444.65 487.12,444.65 503.57,445" fill="none" stroke="#213565" stroke-width="1.8" stroke-linejoin="round"/>
<circle cx="388.43" cy="445" r="2.35" fill="#b6c0d8" stroke="#213565" stroke-width="1.45"/>
<circle cx="404.88" cy="442.17" r="2.35" fill="#b6c0d8" stroke="#213565" stroke-width="1.45"/>
<circle cx="421.32" cy="364.64" r="2.35" fill="#b6c0d8" stroke="#213565" stroke-width="1.45"/>
<circle cx="437.77" cy="396.15" r="2.35" fill="#b6c0d8" stroke="#213565" stroke-width="1.45"/>
<circle cx="454.23" cy="440.75" r="2.35" fill="#b6c0d8" stroke="#213565" stroke-width="1.45"/>
<circle cx="470.68" cy="444.65" r="2.35" fill="#b6c0d8" stroke="#213565" stroke-width="1.45"/>
<circle cx="487.12" cy="444.65" r="2.35" fill="#b6c0d8" stroke="#213565" stroke-width="1.45"/>
<circle cx="503.57" cy="445" r="2.35" fill="#b6c0d8" stroke="#213565" stroke-width="1.45"/>
<polyline points="388.43,444.47 404.88,444.47 421.32,444.47 437.77,444.47 454.23,444.47 470.68,444.47 487.12,444.47 503.57,444.47" fill="none" stroke="#8e1434" stroke-width="2.6" stroke-linejoin="round"/>
<rect x="386.23" y="442.27" width="4.4" height="4.4" fill="#8e1434"/>
<rect x="402.68" y="442.27" width="4.4" height="4.4" fill="#8e1434"/>
<rect x="419.12" y="442.27" width="4.4" height="4.4" fill="#8e1434"/>
<rect x="435.57" y="442.27" width="4.4" height="4.4" fill="#8e1434"/>
<rect x="452.03" y="442.27" width="4.4" height="4.4" fill="#8e1434"/>
<rect x="468.48" y="442.27" width="4.4" height="4.4" fill="#8e1434"/>
<rect x="484.93" y="442.27" width="4.4" height="4.4" fill="#8e1434"/>
<rect x="501.38" y="442.27" width="4.4" height="4.4" fill="#8e1434"/>
<line x1="50.9" y1="493.9" x2="50.9" y2="584.5" stroke="#000" stroke-width="1.4" />
<line x1="47.4" y1="583.8" x2="50.9" y2="583.8" stroke="#000" stroke-width="1.2" />
<text transform="translate(43.9,586.9) scale(0.95,1)" font-size="8.7" text-anchor="end" >0</text>
<line x1="47.4" y1="562.15" x2="50.9" y2="562.15" stroke="#000" stroke-width="1.2" />
<text transform="translate(43.9,565.25) scale(0.95,1)" font-size="8.7" text-anchor="end" >0.5</text>
<line x1="47.4" y1="540.5" x2="50.9" y2="540.5" stroke="#000" stroke-width="1.2" />
<text transform="translate(43.9,543.6) scale(0.95,1)" font-size="8.7" text-anchor="end" >1.0</text>
<line x1="47.4" y1="518.85" x2="50.9" y2="518.85" stroke="#000" stroke-width="1.2" />
<text transform="translate(43.9,521.95) scale(0.95,1)" font-size="8.7" text-anchor="end" >1.5</text>
<line x1="47.4" y1="497.2" x2="50.9" y2="497.2" stroke="#000" stroke-width="1.2" />
<text transform="translate(43.9,500.3) scale(0.95,1)" font-size="8.7" text-anchor="end" >2.0</text>
<line x1="50.2" y1="583.8" x2="180.8" y2="583.8" stroke="#000" stroke-width="1.4" />
<line x1="56.8" y1="583.8" x2="56.8" y2="586.8" stroke="#000" stroke-width="1.1" />
<text transform="translate(56.8,598.2) scale(0.95,1)" font-size="8.7" text-anchor="middle" >0</text>
<line x1="68.61" y1="583.8" x2="68.61" y2="586.8" stroke="#000" stroke-width="1.1" />
<text transform="translate(68.61,598.2) scale(0.95,1)" font-size="8.7" text-anchor="middle" >3</text>
<line x1="80.42" y1="583.8" x2="80.42" y2="586.8" stroke="#000" stroke-width="1.1" />
<text transform="translate(80.42,598.2) scale(0.95,1)" font-size="8.7" text-anchor="middle" >7</text>
<line x1="92.23" y1="583.8" x2="92.23" y2="586.8" stroke="#000" stroke-width="1.1" />
<text transform="translate(92.23,598.2) scale(0.95,1)" font-size="8.7" text-anchor="middle" >10</text>
<line x1="104.04" y1="583.8" x2="104.04" y2="586.8" stroke="#000" stroke-width="1.1" />
<text transform="translate(104.04,598.2) scale(0.95,1)" font-size="8.7" text-anchor="middle" >14</text>
<line x1="115.85" y1="583.8" x2="115.85" y2="586.8" stroke="#000" stroke-width="1.1" />
<text transform="translate(115.85,598.2) scale(0.95,1)" font-size="8.7" text-anchor="middle" >17</text>
<line x1="127.66" y1="583.8" x2="127.66" y2="586.8" stroke="#000" stroke-width="1.1" />
<text transform="translate(127.66,598.2) scale(0.95,1)" font-size="8.7" text-anchor="middle" >21</text>
<line x1="139.47" y1="583.8" x2="139.47" y2="586.8" stroke="#000" stroke-width="1.1" />
<text transform="translate(139.47,598.2) scale(0.95,1)" font-size="8.7" text-anchor="middle" >26</text>
<line x1="151.28" y1="583.8" x2="151.28" y2="586.8" stroke="#000" stroke-width="1.1" />
<text transform="translate(151.28,598.2) scale(0.95,1)" font-size="8.7" text-anchor="middle" >29</text>
<line x1="163.09" y1="583.8" x2="163.09" y2="586.8" stroke="#000" stroke-width="1.1" />
<text transform="translate(163.09,598.2) scale(0.95,1)" font-size="8.7" text-anchor="middle" >35</text>
<line x1="174.9" y1="583.8" x2="174.9" y2="586.8" stroke="#000" stroke-width="1.1" />
<text transform="translate(174.9,598.2) scale(0.95,1)" font-size="8.7" text-anchor="middle" >40</text>
<text x="115.85" y="487.8" font-size="10.4" text-anchor="middle" font-weight="bold" >CML # 10 CP</text>
<polyline points="56.8,570.81 68.61,564.31 80.42,568.21 92.23,544.83 104.04,555.22 115.85,526.64 127.66,517.12 139.47,535.3 151.28,527.08 163.09,545.7 174.9,559.99" fill="none" stroke="#72a8da" stroke-width="1.8" stroke-linejoin="round"/>
<circle cx="56.8" cy="570.81" r="2.1" fill="#72a8da"/>
<circle cx="68.61" cy="564.31" r="2.1" fill="#72a8da"/>
<circle cx="80.42" cy="568.21" r="2.1" fill="#72a8da"/>
<circle cx="92.23" cy="544.83" r="2.1" fill="#72a8da"/>
<circle cx="104.04" cy="555.22" r="2.1" fill="#72a8da"/>
<circle cx="115.85" cy="526.64" r="2.1" fill="#72a8da"/>
<circle cx="127.66" cy="517.12" r="2.1" fill="#72a8da"/>
<circle cx="139.47" cy="535.3" r="2.1" fill="#72a8da"/>
<circle cx="151.28" cy="527.08" r="2.1" fill="#72a8da"/>
<circle cx="163.09" cy="545.7" r="2.1" fill="#72a8da"/>
<circle cx="174.9" cy="559.99" r="2.1" fill="#72a8da"/>
<polyline points="104.04,577.3 127.66,517.12 139.47,508.46 174.9,583.8" fill="none" stroke="#4f9030" stroke-width="1.2" stroke-dasharray="1.4,1.2" stroke-linejoin="round"/>
<polyline points="56.8,570.81 68.61,573.84 80.42,575.14 92.23,575.14 104.04,576.01 115.85,553.92 127.66,517.12 139.47,508.46 151.28,541.37 163.09,559.55 174.9,583.8" fill="none" stroke="#4f9030" stroke-width="1.3" stroke-dasharray="1.4,1.2" stroke-linejoin="round"/>
<path d="M54.4,568.41 L59.2,573.21 M59.2,568.41 L54.4,573.21" stroke="#4f9030" stroke-width="1.0"/>
<path d="M66.21,571.44 L71.01,576.24 M71.01,571.44 L66.21,576.24" stroke="#4f9030" stroke-width="1.0"/>
<path d="M78.02,572.74 L82.82,577.54 M82.82,572.74 L78.02,577.54" stroke="#4f9030" stroke-width="1.0"/>
<path d="M89.83,572.74 L94.63,577.54 M94.63,572.74 L89.83,577.54" stroke="#4f9030" stroke-width="1.0"/>
<path d="M101.64,573.61 L106.44,578.41 M106.44,573.61 L101.64,578.41" stroke="#4f9030" stroke-width="1.0"/>
<path d="M113.45,551.52 L118.25,556.32 M118.25,551.52 L113.45,556.32" stroke="#4f9030" stroke-width="1.0"/>
<path d="M125.26,514.72 L130.06,519.52 M130.06,514.72 L125.26,519.52" stroke="#4f9030" stroke-width="1.0"/>
<path d="M137.07,506.06 L141.87,510.86 M141.87,506.06 L137.07,510.86" stroke="#4f9030" stroke-width="1.0"/>
<path d="M148.88,538.97 L153.68,543.77 M153.68,538.97 L148.88,543.77" stroke="#4f9030" stroke-width="1.0"/>
<path d="M160.69,557.15 L165.49,561.95 M165.49,557.15 L160.69,561.95" stroke="#4f9030" stroke-width="1.0"/>
<path d="M172.5,581.4 L177.3,586.2 M177.3,581.4 L172.5,586.2" stroke="#4f9030" stroke-width="1.0"/>
<polyline points="56.8,570.81 68.61,579.47 80.42,575.14 92.23,575.14 104.04,565.61 115.85,531.41 127.66,531.41 139.47,539.2 151.28,561.28 163.09,574.71 174.9,583.8" fill="none" stroke="#dcc644" stroke-width="2.2" stroke-dasharray="3.8,2" stroke-linejoin="round"/>
<path d="M56.8,568.51 L59.1,572.41 L54.5,572.41Z" fill="#dcc644"/>
<path d="M68.61,577.17 L70.91,581.07 L66.31,581.07Z" fill="#dcc644"/>
<path d="M80.42,572.84 L82.72,576.74 L78.12,576.74Z" fill="#dcc644"/>
<path d="M92.23,572.84 L94.53,576.74 L89.93,576.74Z" fill="#dcc644"/>
<path d="M104.04,563.31 L106.34,567.21 L101.74,567.21Z" fill="#dcc644"/>
<path d="M115.85,529.11 L118.15,533.01 L113.55,533.01Z" fill="#dcc644"/>
<path d="M127.66,529.11 L129.96,533.01 L125.36,533.01Z" fill="#dcc644"/>
<path d="M139.47,536.9 L141.77,540.8 L137.17,540.8Z" fill="#dcc644"/>
<path d="M151.28,558.98 L153.58,562.88 L148.98,562.88Z" fill="#dcc644"/>
<path d="M163.09,572.41 L165.39,576.31 L160.79,576.31Z" fill="#dcc644"/>
<path d="M174.9,581.5 L177.2,585.4 L172.6,585.4Z" fill="#dcc644"/>
<polyline points="56.8,570.81 68.61,575.14 80.42,570.81 92.23,567.78 104.04,567.35 115.85,541.37 127.66,530.11 139.47,535.3 151.28,550.46 163.09,550.89 174.9,565.18" fill="none" stroke="#213565" stroke-width="1.8" stroke-linejoin="round"/>
<circle cx="56.8" cy="570.81" r="2.35" fill="#b6c0d8" stroke="#213565" stroke-width="1.45"/>
<circle cx="68.61" cy="575.14" r="2.35" fill="#b6c0d8" stroke="#213565" stroke-width="1.45"/>
<circle cx="80.42" cy="570.81" r="2.35" fill="#b6c0d8" stroke="#213565" stroke-width="1.45"/>
<circle cx="92.23" cy="567.78" r="2.35" fill="#b6c0d8" stroke="#213565" stroke-width="1.45"/>
<circle cx="104.04" cy="567.35" r="2.35" fill="#b6c0d8" stroke="#213565" stroke-width="1.45"/>
<circle cx="115.85" cy="541.37" r="2.35" fill="#b6c0d8" stroke="#213565" stroke-width="1.45"/>
<circle cx="127.66" cy="530.11" r="2.35" fill="#b6c0d8" stroke="#213565" stroke-width="1.45"/>
<circle cx="139.47" cy="535.3" r="2.35" fill="#b6c0d8" stroke="#213565" stroke-width="1.45"/>
<circle cx="151.28" cy="550.46" r="2.35" fill="#b6c0d8" stroke="#213565" stroke-width="1.45"/>
<circle cx="163.09" cy="550.89" r="2.35" fill="#b6c0d8" stroke="#213565" stroke-width="1.45"/>
<circle cx="174.9" cy="565.18" r="2.35" fill="#b6c0d8" stroke="#213565" stroke-width="1.45"/>
<polyline points="56.8,570.81 68.61,562.58 80.42,576.44 92.23,576.01 104.04,576.87 115.85,569.94 127.66,574.27 139.47,565.18 151.28,579.04 163.09,579.47 174.9,583.8" fill="none" stroke="#a8173a" stroke-width="1.8" stroke-linejoin="round"/>
<rect x="54.3" y="568.31" width="5" height="5" fill="#d47f92" stroke="#a8173a" stroke-width="1.5"/>
<rect x="66.11" y="560.08" width="5" height="5" fill="#d47f92" stroke="#a8173a" stroke-width="1.5"/>
<rect x="77.92" y="573.94" width="5" height="5" fill="#d47f92" stroke="#a8173a" stroke-width="1.5"/>
<rect x="89.73" y="573.51" width="5" height="5" fill="#d47f92" stroke="#a8173a" stroke-width="1.5"/>
<rect x="101.54" y="574.37" width="5" height="5" fill="#d47f92" stroke="#a8173a" stroke-width="1.5"/>
<rect x="113.35" y="567.44" width="5" height="5" fill="#d47f92" stroke="#a8173a" stroke-width="1.5"/>
<rect x="125.16" y="571.77" width="5" height="5" fill="#d47f92" stroke="#a8173a" stroke-width="1.5"/>
<rect x="136.97" y="562.68" width="5" height="5" fill="#d47f92" stroke="#a8173a" stroke-width="1.5"/>
<rect x="148.78" y="576.54" width="5" height="5" fill="#d47f92" stroke="#a8173a" stroke-width="1.5"/>
<rect x="160.59" y="576.97" width="5" height="5" fill="#d47f92" stroke="#a8173a" stroke-width="1.5"/>
<rect x="172.4" y="581.3" width="5" height="5" fill="#d47f92" stroke="#a8173a" stroke-width="1.5"/>
<line x1="214.5" y1="492.2" x2="214.5" y2="584.5" stroke="#000" stroke-width="1.4" />
<line x1="211" y1="583.8" x2="214.5" y2="583.8" stroke="#000" stroke-width="1.2" />
<text transform="translate(207.5,586.9) scale(0.95,1)" font-size="8.7" text-anchor="end" >0</text>
<line x1="211" y1="561.72" x2="214.5" y2="561.72" stroke="#000" stroke-width="1.2" />
<text transform="translate(207.5,564.82) scale(0.95,1)" font-size="8.7" text-anchor="end" >1</text>
<line x1="211" y1="539.65" x2="214.5" y2="539.65" stroke="#000" stroke-width="1.2" />
<text transform="translate(207.5,542.75) scale(0.95,1)" font-size="8.7" text-anchor="end" >2</text>
<line x1="211" y1="517.58" x2="214.5" y2="517.58" stroke="#000" stroke-width="1.2" />
<text transform="translate(207.5,520.68) scale(0.95,1)" font-size="8.7" text-anchor="end" >3</text>
<line x1="211" y1="495.5" x2="214.5" y2="495.5" stroke="#000" stroke-width="1.2" />
<text transform="translate(207.5,498.6) scale(0.95,1)" font-size="8.7" text-anchor="end" >4</text>
<line x1="213.8" y1="583.8" x2="346.5" y2="583.8" stroke="#000" stroke-width="1.4" />
<line x1="222.75" y1="583.8" x2="222.75" y2="586.8" stroke="#000" stroke-width="1.1" />
<text transform="translate(222.75,598.2) scale(0.95,1)" font-size="8.7" text-anchor="middle" >0</text>
<line x1="239.25" y1="583.8" x2="239.25" y2="586.8" stroke="#000" stroke-width="1.1" />
<text transform="translate(239.25,598.2) scale(0.95,1)" font-size="8.7" text-anchor="middle" >2</text>
<line x1="255.75" y1="583.8" x2="255.75" y2="586.8" stroke="#000" stroke-width="1.1" />
<text transform="translate(255.75,598.2) scale(0.95,1)" font-size="8.7" text-anchor="middle" >6</text>
<line x1="272.25" y1="583.8" x2="272.25" y2="586.8" stroke="#000" stroke-width="1.1" />
<text transform="translate(272.25,598.2) scale(0.95,1)" font-size="8.7" text-anchor="middle" >9</text>
<line x1="288.75" y1="583.8" x2="288.75" y2="586.8" stroke="#000" stroke-width="1.1" />
<text transform="translate(288.75,598.2) scale(0.95,1)" font-size="8.7" text-anchor="middle" >12</text>
<line x1="305.25" y1="583.8" x2="305.25" y2="586.8" stroke="#000" stroke-width="1.1" />
<text transform="translate(305.25,598.2) scale(0.95,1)" font-size="8.7" text-anchor="middle" >15</text>
<line x1="321.75" y1="583.8" x2="321.75" y2="586.8" stroke="#000" stroke-width="1.1" />
<text transform="translate(321.75,598.2) scale(0.95,1)" font-size="8.7" text-anchor="middle" >19</text>
<line x1="338.25" y1="583.8" x2="338.25" y2="586.8" stroke="#000" stroke-width="1.1" />
<text transform="translate(338.25,598.2) scale(0.95,1)" font-size="8.7" text-anchor="middle" >22</text>
<text x="280.5" y="487.8" font-size="10.4" text-anchor="middle" font-weight="bold" >CML # 14 CP</text>
<polyline points="222.75,577.18 239.25,583.36 255.75,583.36 272.25,583.36 288.75,583.36 305.25,583.36 321.75,583.36 338.25,583.36" fill="none" stroke="#e8a53c" stroke-width="1.1" stroke-dasharray="1.2,1.2" stroke-linejoin="round"/>
<path d="M222.75,574.28 L225.55,579.28 L219.95,579.28Z" fill="#f6e2a8" stroke="#e8a53c" stroke-width="1.0"/>
<path d="M239.25,580.46 L242.05,585.46 L236.45,585.46Z" fill="#f6e2a8" stroke="#e8a53c" stroke-width="1.0"/>
<path d="M255.75,580.46 L258.55,585.46 L252.95,585.46Z" fill="#f6e2a8" stroke="#e8a53c" stroke-width="1.0"/>
<path d="M272.25,580.46 L275.05,585.46 L269.45,585.46Z" fill="#f6e2a8" stroke="#e8a53c" stroke-width="1.0"/>
<path d="M288.75,580.46 L291.55,585.46 L285.95,585.46Z" fill="#f6e2a8" stroke="#e8a53c" stroke-width="1.0"/>
<path d="M305.25,580.46 L308.05,585.46 L302.45,585.46Z" fill="#f6e2a8" stroke="#e8a53c" stroke-width="1.0"/>
<path d="M321.75,580.46 L324.55,585.46 L318.95,585.46Z" fill="#f6e2a8" stroke="#e8a53c" stroke-width="1.0"/>
<path d="M338.25,580.46 L341.05,585.46 L335.45,585.46Z" fill="#f6e2a8" stroke="#e8a53c" stroke-width="1.0"/>
<polyline points="222.75,577.18 239.25,579.38 255.75,543.62 272.25,520.89 288.75,504.33 305.25,522.43 321.75,547.6 338.25,565.48" fill="none" stroke="#dcc644" stroke-width="2.2" stroke-dasharray="3.8,2" stroke-linejoin="round"/>
<path d="M222.75,574.88 L225.05,578.78 L220.45,578.78Z" fill="#dcc644"/>
<path d="M239.25,577.09 L241.55,580.99 L236.95,580.99Z" fill="#dcc644"/>
<path d="M255.75,541.32 L258.05,545.22 L253.45,545.22Z" fill="#dcc644"/>
<path d="M272.25,518.59 L274.55,522.49 L269.95,522.49Z" fill="#dcc644"/>
<path d="M288.75,502.03 L291.05,505.93 L286.45,505.93Z" fill="#dcc644"/>
<path d="M305.25,520.13 L307.55,524.03 L302.95,524.03Z" fill="#dcc644"/>
<path d="M321.75,545.3 L324.05,549.2 L319.45,549.2Z" fill="#dcc644"/>
<path d="M338.25,563.18 L340.55,567.08 L335.95,567.08Z" fill="#dcc644"/>
<polyline points="222.75,577.18 239.25,582.7 255.75,580.49 272.25,571.22 288.75,553.78 305.25,554.66 321.75,563.27 338.25,559.96" fill="none" stroke="#213565" stroke-width="1.8" stroke-linejoin="round"/>
<circle cx="222.75" cy="577.18" r="2.35" fill="#b6c0d8" stroke="#213565" stroke-width="1.45"/>
<circle cx="239.25" cy="582.7" r="2.35" fill="#b6c0d8" stroke="#213565" stroke-width="1.45"/>
<circle cx="255.75" cy="580.49" r="2.35" fill="#b6c0d8" stroke="#213565" stroke-width="1.45"/>
<circle cx="272.25" cy="571.22" r="2.35" fill="#b6c0d8" stroke="#213565" stroke-width="1.45"/>
<circle cx="288.75" cy="553.78" r="2.35" fill="#b6c0d8" stroke="#213565" stroke-width="1.45"/>
<circle cx="305.25" cy="554.66" r="2.35" fill="#b6c0d8" stroke="#213565" stroke-width="1.45"/>
<circle cx="321.75" cy="563.27" r="2.35" fill="#b6c0d8" stroke="#213565" stroke-width="1.45"/>
<circle cx="338.25" cy="559.96" r="2.35" fill="#b6c0d8" stroke="#213565" stroke-width="1.45"/>
<polyline points="222.75,577.18 239.25,582.7 255.75,582.7 272.25,578.94 288.75,580.05 305.25,581.59 321.75,583.36 338.25,581.59" fill="none" stroke="#a8173a" stroke-width="1.8" stroke-linejoin="round"/>
<rect x="220.25" y="574.68" width="5" height="5" fill="#d47f92" stroke="#a8173a" stroke-width="1.5"/>
<rect x="236.75" y="580.2" width="5" height="5" fill="#d47f92" stroke="#a8173a" stroke-width="1.5"/>
<rect x="253.25" y="580.2" width="5" height="5" fill="#d47f92" stroke="#a8173a" stroke-width="1.5"/>
<rect x="269.75" y="576.44" width="5" height="5" fill="#d47f92" stroke="#a8173a" stroke-width="1.5"/>
<rect x="286.25" y="577.55" width="5" height="5" fill="#d47f92" stroke="#a8173a" stroke-width="1.5"/>
<rect x="302.75" y="579.09" width="5" height="5" fill="#d47f92" stroke="#a8173a" stroke-width="1.5"/>
<rect x="319.25" y="580.86" width="5" height="5" fill="#d47f92" stroke="#a8173a" stroke-width="1.5"/>
<rect x="335.75" y="579.09" width="5" height="5" fill="#d47f92" stroke="#a8173a" stroke-width="1.5"/>
<rect x="220.25" y="574.68" width="5" height="5" fill="#8a8fa8" stroke="#4a4c6c" stroke-width="1.4"/>
<line x1="380.2" y1="492.2" x2="380.2" y2="584.5" stroke="#000" stroke-width="1.4" />
<line x1="376.7" y1="583.8" x2="380.2" y2="583.8" stroke="#000" stroke-width="1.2" />
<text transform="translate(373.2,586.9) scale(0.95,1)" font-size="8.7" text-anchor="end" >0</text>
<line x1="376.7" y1="561.72" x2="380.2" y2="561.72" stroke="#000" stroke-width="1.2" />
<text transform="translate(373.2,564.82) scale(0.95,1)" font-size="8.7" text-anchor="end" >1</text>
<line x1="376.7" y1="539.65" x2="380.2" y2="539.65" stroke="#000" stroke-width="1.2" />
<text transform="translate(373.2,542.75) scale(0.95,1)" font-size="8.7" text-anchor="end" >2</text>
<line x1="376.7" y1="517.58" x2="380.2" y2="517.58" stroke="#000" stroke-width="1.2" />
<text transform="translate(373.2,520.68) scale(0.95,1)" font-size="8.7" text-anchor="end" >3</text>
<line x1="376.7" y1="495.5" x2="380.2" y2="495.5" stroke="#000" stroke-width="1.2" />
<text transform="translate(373.2,498.6) scale(0.95,1)" font-size="8.7" text-anchor="end" >4</text>
<line x1="379.5" y1="583.8" x2="511.8" y2="583.8" stroke="#000" stroke-width="1.4" />
<line x1="387.51" y1="583.8" x2="387.51" y2="586.8" stroke="#000" stroke-width="1.1" />
<text transform="translate(387.51,598.2) scale(0.95,1)" font-size="8.7" text-anchor="middle" >0</text>
<line x1="402.13" y1="583.8" x2="402.13" y2="586.8" stroke="#000" stroke-width="1.1" />
<text transform="translate(402.13,598.2) scale(0.95,1)" font-size="8.7" text-anchor="middle" >3</text>
<line x1="416.76" y1="583.8" x2="416.76" y2="586.8" stroke="#000" stroke-width="1.1" />
<text transform="translate(416.76,598.2) scale(0.95,1)" font-size="8.7" text-anchor="middle" >6</text>
<line x1="431.38" y1="583.8" x2="431.38" y2="586.8" stroke="#000" stroke-width="1.1" />
<text transform="translate(431.38,598.2) scale(0.95,1)" font-size="8.7" text-anchor="middle" >9</text>
<line x1="446" y1="583.8" x2="446" y2="586.8" stroke="#000" stroke-width="1.1" />
<text transform="translate(446,598.2) scale(0.95,1)" font-size="8.7" text-anchor="middle" >11</text>
<line x1="460.62" y1="583.8" x2="460.62" y2="586.8" stroke="#000" stroke-width="1.1" />
<text transform="translate(460.62,598.2) scale(0.95,1)" font-size="8.7" text-anchor="middle" >14</text>
<line x1="475.24" y1="583.8" x2="475.24" y2="586.8" stroke="#000" stroke-width="1.1" />
<text transform="translate(475.24,598.2) scale(0.95,1)" font-size="8.7" text-anchor="middle" >18</text>
<line x1="489.87" y1="583.8" x2="489.87" y2="586.8" stroke="#000" stroke-width="1.1" />
<text transform="translate(489.87,598.2) scale(0.95,1)" font-size="8.7" text-anchor="middle" >21</text>
<line x1="504.49" y1="583.8" x2="504.49" y2="586.8" stroke="#000" stroke-width="1.1" />
<text transform="translate(504.49,598.2) scale(0.95,1)" font-size="8.7" text-anchor="middle" >26</text>
<text x="446" y="487.8" font-size="10.4" text-anchor="middle" font-weight="bold" >CML # 15 CP</text>
<polyline points="387.51,577.18 402.13,580.49 416.76,580.49 431.38,577.18 446,578.28 460.62,577.62 475.24,577.62 489.87,578.28 504.49,583.8" fill="none" stroke="#e8a53c" stroke-width="1.1" stroke-dasharray="1.2,1.2" stroke-linejoin="round"/>
<path d="M387.51,574.28 L390.31,579.28 L384.71,579.28Z" fill="#f6e2a8" stroke="#e8a53c" stroke-width="1.0"/>
<path d="M402.13,577.59 L404.93,582.59 L399.33,582.59Z" fill="#f6e2a8" stroke="#e8a53c" stroke-width="1.0"/>
<path d="M416.76,577.59 L419.56,582.59 L413.96,582.59Z" fill="#f6e2a8" stroke="#e8a53c" stroke-width="1.0"/>
<path d="M431.38,574.28 L434.18,579.28 L428.58,579.28Z" fill="#f6e2a8" stroke="#e8a53c" stroke-width="1.0"/>
<path d="M446,575.38 L448.8,580.38 L443.2,580.38Z" fill="#f6e2a8" stroke="#e8a53c" stroke-width="1.0"/>
<path d="M460.62,574.72 L463.42,579.72 L457.82,579.72Z" fill="#f6e2a8" stroke="#e8a53c" stroke-width="1.0"/>
<path d="M475.24,574.72 L478.04,579.72 L472.44,579.72Z" fill="#f6e2a8" stroke="#e8a53c" stroke-width="1.0"/>
<path d="M489.87,575.38 L492.67,580.38 L487.07,580.38Z" fill="#f6e2a8" stroke="#e8a53c" stroke-width="1.0"/>
<path d="M504.49,580.9 L507.29,585.9 L501.69,585.9Z" fill="#f6e2a8" stroke="#e8a53c" stroke-width="1.0"/>
<polyline points="387.51,577.18 402.13,577.18 416.76,554 431.38,529.72 446,540.75 460.62,549.58 475.24,563.93 489.87,562.39 504.49,581.59" fill="none" stroke="#dcc644" stroke-width="2.2" stroke-dasharray="3.8,2" stroke-linejoin="round"/>
<path d="M387.51,574.88 L389.81,578.78 L385.21,578.78Z" fill="#dcc644"/>
<path d="M402.13,574.88 L404.43,578.78 L399.83,578.78Z" fill="#dcc644"/>
<path d="M416.76,551.7 L419.06,555.6 L414.46,555.6Z" fill="#dcc644"/>
<path d="M431.38,527.42 L433.68,531.32 L429.08,531.32Z" fill="#dcc644"/>
<path d="M446,538.45 L448.3,542.35 L443.7,542.35Z" fill="#dcc644"/>
<path d="M460.62,547.28 L462.92,551.18 L458.32,551.18Z" fill="#dcc644"/>
<path d="M475.24,561.63 L477.54,565.53 L472.94,565.53Z" fill="#dcc644"/>
<path d="M489.87,560.09 L492.17,563.99 L487.57,563.99Z" fill="#dcc644"/>
<path d="M504.49,579.29 L506.79,583.19 L502.19,583.19Z" fill="#dcc644"/>
<polyline points="387.51,577.18 402.13,564.82 416.76,550.25 431.38,518.46 446,537 460.62,554.44 475.24,567.69 489.87,562.39 504.49,580.49" fill="none" stroke="#213565" stroke-width="1.8" stroke-linejoin="round"/>
<circle cx="387.51" cy="577.18" r="2.35" fill="#b6c0d8" stroke="#213565" stroke-width="1.45"/>
<circle cx="402.13" cy="564.82" r="2.35" fill="#b6c0d8" stroke="#213565" stroke-width="1.45"/>
<circle cx="416.76" cy="550.25" r="2.35" fill="#b6c0d8" stroke="#213565" stroke-width="1.45"/>
<circle cx="431.38" cy="518.46" r="2.35" fill="#b6c0d8" stroke="#213565" stroke-width="1.45"/>
<circle cx="446" cy="537" r="2.35" fill="#b6c0d8" stroke="#213565" stroke-width="1.45"/>
<circle cx="460.62" cy="554.44" r="2.35" fill="#b6c0d8" stroke="#213565" stroke-width="1.45"/>
<circle cx="475.24" cy="567.69" r="2.35" fill="#b6c0d8" stroke="#213565" stroke-width="1.45"/>
<circle cx="489.87" cy="562.39" r="2.35" fill="#b6c0d8" stroke="#213565" stroke-width="1.45"/>
<circle cx="504.49" cy="580.49" r="2.35" fill="#b6c0d8" stroke="#213565" stroke-width="1.45"/>
<polyline points="387.51,577.18 402.13,576.52 416.76,581.59 431.38,582.7 446,582.7 460.62,582.03 475.24,581.59 489.87,583.8 504.49,583.8" fill="none" stroke="#a8173a" stroke-width="1.8" stroke-linejoin="round"/>
<rect x="385.01" y="574.68" width="5" height="5" fill="#d47f92" stroke="#a8173a" stroke-width="1.5"/>
<rect x="399.63" y="574.02" width="5" height="5" fill="#d47f92" stroke="#a8173a" stroke-width="1.5"/>
<rect x="414.26" y="579.09" width="5" height="5" fill="#d47f92" stroke="#a8173a" stroke-width="1.5"/>
<rect x="428.88" y="580.2" width="5" height="5" fill="#d47f92" stroke="#a8173a" stroke-width="1.5"/>
<rect x="443.5" y="580.2" width="5" height="5" fill="#d47f92" stroke="#a8173a" stroke-width="1.5"/>
<rect x="458.12" y="579.53" width="5" height="5" fill="#d47f92" stroke="#a8173a" stroke-width="1.5"/>
<rect x="472.74" y="579.09" width="5" height="5" fill="#d47f92" stroke="#a8173a" stroke-width="1.5"/>
<rect x="487.37" y="581.3" width="5" height="5" fill="#d47f92" stroke="#a8173a" stroke-width="1.5"/>
<rect x="501.99" y="581.3" width="5" height="5" fill="#d47f92" stroke="#a8173a" stroke-width="1.5"/>
<rect x="385.01" y="574.68" width="5" height="5" fill="#8a8fa8" stroke="#4a4c6c" stroke-width="1.4"/>
<line x1="50.9" y1="633" x2="50.9" y2="723.3" stroke="#000" stroke-width="1.4" />
<line x1="47.4" y1="722.6" x2="50.9" y2="722.6" stroke="#000" stroke-width="1.2" />
<text transform="translate(43.9,725.7) scale(0.95,1)" font-size="8.7" text-anchor="end" >0</text>
<line x1="47.4" y1="693.83" x2="50.9" y2="693.83" stroke="#000" stroke-width="1.2" />
<text transform="translate(43.9,696.93) scale(0.95,1)" font-size="8.7" text-anchor="end" >5</text>
<line x1="47.4" y1="665.07" x2="50.9" y2="665.07" stroke="#000" stroke-width="1.2" />
<text transform="translate(43.9,668.17) scale(0.95,1)" font-size="8.7" text-anchor="end" >10</text>
<line x1="47.4" y1="636.3" x2="50.9" y2="636.3" stroke="#000" stroke-width="1.2" />
<text transform="translate(43.9,639.4) scale(0.95,1)" font-size="8.7" text-anchor="end" >15</text>
<line x1="50.2" y1="722.6" x2="180.8" y2="722.6" stroke="#000" stroke-width="1.4" />
<line x1="59.02" y1="722.6" x2="59.02" y2="725.6" stroke="#000" stroke-width="1.1" />
<text transform="translate(59.02,737) scale(0.95,1)" font-size="8.7" text-anchor="middle" >0</text>
<line x1="75.26" y1="722.6" x2="75.26" y2="725.6" stroke="#000" stroke-width="1.1" />
<text transform="translate(75.26,737) scale(0.95,1)" font-size="8.7" text-anchor="middle" >3</text>
<line x1="91.49" y1="722.6" x2="91.49" y2="725.6" stroke="#000" stroke-width="1.1" />
<text transform="translate(91.49,737) scale(0.95,1)" font-size="8.7" text-anchor="middle" >7</text>
<line x1="107.73" y1="722.6" x2="107.73" y2="725.6" stroke="#000" stroke-width="1.1" />
<text transform="translate(107.73,737) scale(0.95,1)" font-size="8.7" text-anchor="middle" >10</text>
<line x1="123.97" y1="722.6" x2="123.97" y2="725.6" stroke="#000" stroke-width="1.1" />
<text transform="translate(123.97,737) scale(0.95,1)" font-size="8.7" text-anchor="middle" >14</text>
<line x1="140.21" y1="722.6" x2="140.21" y2="725.6" stroke="#000" stroke-width="1.1" />
<text transform="translate(140.21,737) scale(0.95,1)" font-size="8.7" text-anchor="middle" >17</text>
<line x1="156.44" y1="722.6" x2="156.44" y2="725.6" stroke="#000" stroke-width="1.1" />
<text transform="translate(156.44,737) scale(0.95,1)" font-size="8.7" text-anchor="middle" >21</text>
<line x1="172.68" y1="722.6" x2="172.68" y2="725.6" stroke="#000" stroke-width="1.1" />
<text transform="translate(172.68,737) scale(0.95,1)" font-size="8.7" text-anchor="middle" >25</text>
<text x="115.85" y="626.6" font-size="10.4" text-anchor="middle" font-weight="bold" >NHD # 3</text>
<polyline points="59.02,721.45 75.26,715.12 91.49,693.55 107.73,659.89 123.97,682.33 140.21,709.37 156.44,711.09 172.68,719.72" fill="none" stroke="#213565" stroke-width="1.8" stroke-linejoin="round"/>
<circle cx="59.02" cy="721.45" r="2.35" fill="#b6c0d8" stroke="#213565" stroke-width="1.45"/>
<circle cx="75.26" cy="715.12" r="2.35" fill="#b6c0d8" stroke="#213565" stroke-width="1.45"/>
<circle cx="91.49" cy="693.55" r="2.35" fill="#b6c0d8" stroke="#213565" stroke-width="1.45"/>
<circle cx="107.73" cy="659.89" r="2.35" fill="#b6c0d8" stroke="#213565" stroke-width="1.45"/>
<circle cx="123.97" cy="682.33" r="2.35" fill="#b6c0d8" stroke="#213565" stroke-width="1.45"/>
<circle cx="140.21" cy="709.37" r="2.35" fill="#b6c0d8" stroke="#213565" stroke-width="1.45"/>
<circle cx="156.44" cy="711.09" r="2.35" fill="#b6c0d8" stroke="#213565" stroke-width="1.45"/>
<circle cx="172.68" cy="719.72" r="2.35" fill="#b6c0d8" stroke="#213565" stroke-width="1.45"/>
<polyline points="59.02,721.45 75.26,719.72 91.49,711.67 107.73,689.81 123.97,674.56 140.21,709.37 156.44,713.39 172.68,719.15" fill="none" stroke="#a8173a" stroke-width="1.8" stroke-linejoin="round"/>
<rect x="56.52" y="718.95" width="5" height="5" fill="#d47f92" stroke="#a8173a" stroke-width="1.5"/>
<rect x="72.76" y="717.22" width="5" height="5" fill="#d47f92" stroke="#a8173a" stroke-width="1.5"/>
<rect x="88.99" y="709.17" width="5" height="5" fill="#d47f92" stroke="#a8173a" stroke-width="1.5"/>
<rect x="105.23" y="687.31" width="5" height="5" fill="#d47f92" stroke="#a8173a" stroke-width="1.5"/>
<rect x="121.47" y="672.06" width="5" height="5" fill="#d47f92" stroke="#a8173a" stroke-width="1.5"/>
<rect x="137.71" y="706.87" width="5" height="5" fill="#d47f92" stroke="#a8173a" stroke-width="1.5"/>
<rect x="153.94" y="710.89" width="5" height="5" fill="#d47f92" stroke="#a8173a" stroke-width="1.5"/>
<rect x="170.18" y="716.65" width="5" height="5" fill="#d47f92" stroke="#a8173a" stroke-width="1.5"/>
<line x1="214.5" y1="631.3" x2="214.5" y2="722.9" stroke="#000" stroke-width="1.4" />
<line x1="211" y1="722.2" x2="214.5" y2="722.2" stroke="#000" stroke-width="1.2" />
<text transform="translate(207.5,725.3) scale(0.95,1)" font-size="8.7" text-anchor="end" >0</text>
<line x1="211" y1="700.3" x2="214.5" y2="700.3" stroke="#000" stroke-width="1.2" />
<text transform="translate(207.5,703.4) scale(0.95,1)" font-size="8.7" text-anchor="end" >5</text>
<line x1="211" y1="678.4" x2="214.5" y2="678.4" stroke="#000" stroke-width="1.2" />
<text transform="translate(207.5,681.5) scale(0.95,1)" font-size="8.7" text-anchor="end" >10</text>
<line x1="211" y1="656.5" x2="214.5" y2="656.5" stroke="#000" stroke-width="1.2" />
<text transform="translate(207.5,659.6) scale(0.95,1)" font-size="8.7" text-anchor="end" >15</text>
<line x1="211" y1="634.6" x2="214.5" y2="634.6" stroke="#000" stroke-width="1.2" />
<text transform="translate(207.5,637.7) scale(0.95,1)" font-size="8.7" text-anchor="end" >20</text>
<line x1="213.8" y1="722.2" x2="346.5" y2="722.2" stroke="#000" stroke-width="1.4" />
<line x1="223.93" y1="722.2" x2="223.93" y2="725.2" stroke="#000" stroke-width="1.1" />
<text transform="translate(223.93,736.6) scale(0.95,1)" font-size="8.7" text-anchor="middle" >0</text>
<line x1="242.79" y1="722.2" x2="242.79" y2="725.2" stroke="#000" stroke-width="1.1" />
<text transform="translate(242.79,736.6) scale(0.95,1)" font-size="8.7" text-anchor="middle" >6</text>
<line x1="261.64" y1="722.2" x2="261.64" y2="725.2" stroke="#000" stroke-width="1.1" />
<text transform="translate(261.64,736.6) scale(0.95,1)" font-size="8.7" text-anchor="middle" >8</text>
<line x1="280.5" y1="722.2" x2="280.5" y2="725.2" stroke="#000" stroke-width="1.1" />
<text transform="translate(280.5,736.6) scale(0.95,1)" font-size="8.7" text-anchor="middle" >10</text>
<line x1="299.36" y1="722.2" x2="299.36" y2="725.2" stroke="#000" stroke-width="1.1" />
<text transform="translate(299.36,736.6) scale(0.95,1)" font-size="8.7" text-anchor="middle" >14</text>
<line x1="318.21" y1="722.2" x2="318.21" y2="725.2" stroke="#000" stroke-width="1.1" />
<text transform="translate(318.21,736.6) scale(0.95,1)" font-size="8.7" text-anchor="middle" >17</text>
<line x1="337.07" y1="722.2" x2="337.07" y2="725.2" stroke="#000" stroke-width="1.1" />
<text transform="translate(337.07,736.6) scale(0.95,1)" font-size="8.7" text-anchor="middle" >21</text>
<text x="280.5" y="626.2" font-size="10.4" text-anchor="middle" font-weight="bold" >NHD # 4</text>
<polyline points="223.93,721.32 242.79,707.31 261.64,688.47 280.5,642.92 299.36,646.86 318.21,703.37 337.07,721.32" fill="none" stroke="#213565" stroke-width="1.8" stroke-linejoin="round"/>
<circle cx="223.93" cy="721.32" r="2.35" fill="#b6c0d8" stroke="#213565" stroke-width="1.45"/>
<circle cx="242.79" cy="707.31" r="2.35" fill="#b6c0d8" stroke="#213565" stroke-width="1.45"/>
<circle cx="261.64" cy="688.47" r="2.35" fill="#b6c0d8" stroke="#213565" stroke-width="1.45"/>
<circle cx="280.5" cy="642.92" r="2.35" fill="#b6c0d8" stroke="#213565" stroke-width="1.45"/>
<circle cx="299.36" cy="646.86" r="2.35" fill="#b6c0d8" stroke="#213565" stroke-width="1.45"/>
<circle cx="318.21" cy="703.37" r="2.35" fill="#b6c0d8" stroke="#213565" stroke-width="1.45"/>
<circle cx="337.07" cy="721.32" r="2.35" fill="#b6c0d8" stroke="#213565" stroke-width="1.45"/>
<polyline points="223.93,721.32 242.79,714.32 261.64,705.56 280.5,662.19 299.36,643.8 318.21,695.04 337.07,721.32" fill="none" stroke="#a8173a" stroke-width="1.8" stroke-linejoin="round"/>
<rect x="221.43" y="718.82" width="5" height="5" fill="#d47f92" stroke="#a8173a" stroke-width="1.5"/>
<rect x="240.29" y="711.82" width="5" height="5" fill="#d47f92" stroke="#a8173a" stroke-width="1.5"/>
<rect x="259.14" y="703.06" width="5" height="5" fill="#d47f92" stroke="#a8173a" stroke-width="1.5"/>
<rect x="278" y="659.69" width="5" height="5" fill="#d47f92" stroke="#a8173a" stroke-width="1.5"/>
<rect x="296.86" y="641.3" width="5" height="5" fill="#d47f92" stroke="#a8173a" stroke-width="1.5"/>
<rect x="315.71" y="692.54" width="5" height="5" fill="#d47f92" stroke="#a8173a" stroke-width="1.5"/>
<rect x="334.57" y="718.82" width="5" height="5" fill="#d47f92" stroke="#a8173a" stroke-width="1.5"/>
<text x="280.7" y="752" font-size="10.6" text-anchor="middle" textLength="124" lengthAdjust="spacingAndGlyphs">Day of incubation in normoxia</text>
<text transform="translate(26.1,538.9) rotate(-90)" font-size="9.8" text-anchor="middle" textLength="133" lengthAdjust="spacingAndGlyphs">Number of viable cells/ml (x10<tspan font-size="7" dy="-3.6">5</tspan><tspan dy="3.6">)</tspan></text>
<line x1="396.2" y1="646.6" x2="408.6" y2="646.6" stroke="#213565" stroke-width="1.8"/>
<circle cx="402.4" cy="646.6" r="2.35" fill="#b6c0d8" stroke="#213565" stroke-width="1.45"/>
<text x="411.9" y="649.6" font-size="8.2" text-anchor="start" class="nl">PBS</text>
<line x1="396.2" y1="658.85" x2="408.6" y2="658.85" stroke="#a8173a" stroke-width="1.8"/>
<rect x="399.9" y="656.35" width="5" height="5" fill="#d47f92" stroke="#a8173a" stroke-width="1.5"/>
<text x="411.9" y="661.85" font-size="8.2" text-anchor="start" class="nl">ACF 1 µM</text>
<line x1="396.2" y1="671.1" x2="408.6" y2="671.1" stroke="#dcc644" stroke-width="2.2" stroke-dasharray="4.2,1.4"/>
<path d="M402.4,668.8 L404.7,672.7 L400.1,672.7Z" fill="#dcc644"/>
<text x="411.9" y="674.1" font-size="8.2" text-anchor="start" class="nl">IM 1 µM</text>
<line x1="396.2" y1="683.35" x2="408.6" y2="683.35" stroke="#e8a53c" stroke-width="1.1" stroke-dasharray="1.2,1.2"/>
<path d="M402.4,680.45 L405.2,685.45 L399.6,685.45Z" fill="#f6e2a8" stroke="#e8a53c" stroke-width="1.0"/>
<text x="411.9" y="686.35" font-size="8.2" text-anchor="start" class="nl">ACF 1 µM + IM 1 µM</text>
<line x1="396.2" y1="695.6" x2="408.6" y2="695.6" stroke="#72a8da" stroke-width="1.8"/>
<circle cx="402.4" cy="695.6" r="2.1" fill="#72a8da"/>
<text x="411.9" y="698.6" font-size="8.2" text-anchor="start" class="nl">DMSO</text>
<line x1="396.2" y1="707.85" x2="408.6" y2="707.85" stroke="#4f9030" stroke-width="1.3" stroke-dasharray="1.4,1.2"/>
<path d="M400,705.45 L404.8,710.25 M404.8,705.45 L400,710.25" stroke="#4f9030" stroke-width="1.0"/>
<text x="411.9" y="710.85" font-size="8.2" text-anchor="start" class="nl">DASA 150 nM</text>
</svg>
<div class="bd" style="left:0;top:0;width:520px;height:1px"></div>
<div class="bd" style="left:0;top:0;width:1px;height:762px"></div>
<div class="bd" style="left:519px;top:0;width:1px;height:762px"></div>
<div class="bd" style="left:518px;top:0;width:1px;height:762px;background:#888"></div>
<div class="bd" style="left:0;top:761px;width:520px;height:1px"></div>
<div class="bd" style="left:0;top:760px;width:519px;height:1px;background:#888"></div>
</body></html>
